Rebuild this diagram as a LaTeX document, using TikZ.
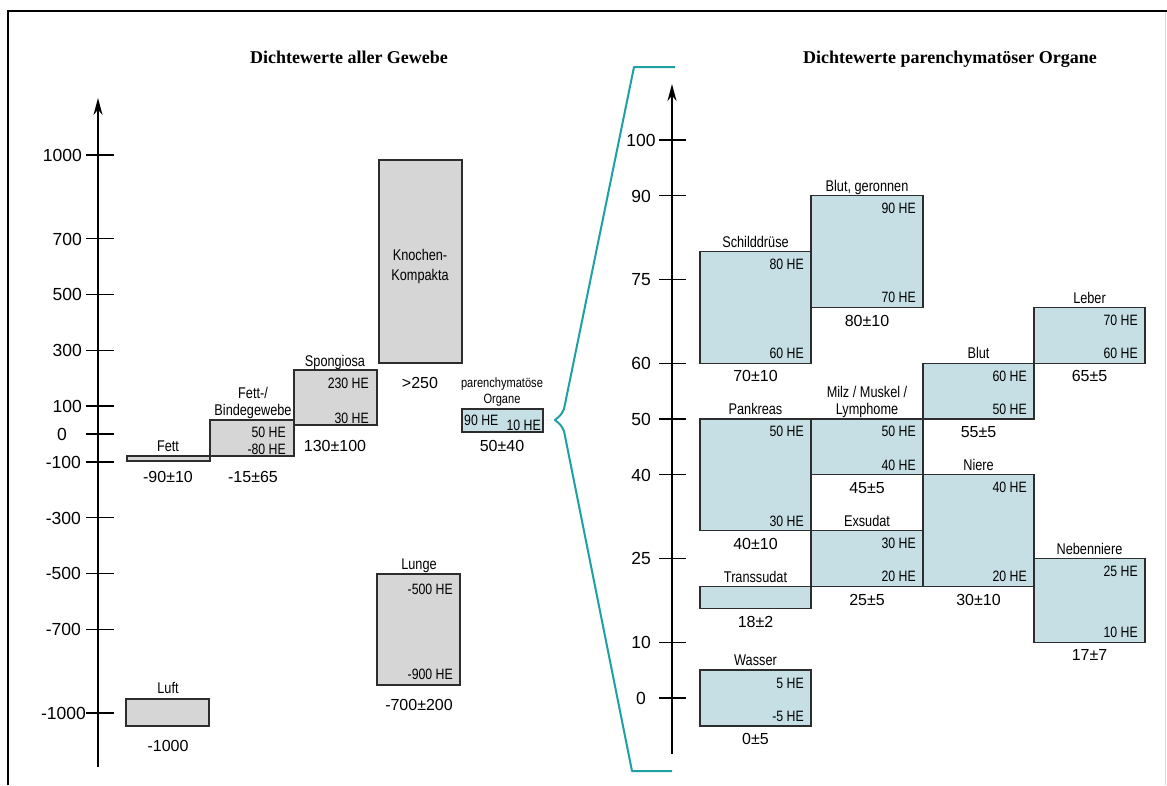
\documentclass[tikz,border=0pt]{standalone}
\usepackage{fontspec}
\setmainfont{Liberation Sans}
\newfontfamily\cond[FakeStretch=0.82]{Liberation Sans}
\newfontfamily\ttlfont{Liberation Serif}
\usetikzlibrary{arrows.meta}
\definecolor{boxgray}{RGB}{214,214,214}
\definecolor{boxblue}{RGB}{198,223,228}
\definecolor{bracketcol}{RGB}{30,160,165}
\definecolor{edgecol}{RGB}{45,45,45}
\tikzset{
 graybox/.style={draw=edgecol, line width=1.3pt, fill=boxgray, inner sep=0pt, outer sep=0pt},
 bluebox/.style={draw=edgecol, line width=1.3pt, fill=boxblue, inner sep=0pt, outer sep=0pt},
 he/.style={font=\cond\fontsize{15}{16}\selectfont, inner sep=0pt, text height=10.8pt, text depth=0pt},
 namelab/.style={font=\cond\fontsize{15.5}{17}\selectfont, inner sep=0pt, text height=11.2pt, text depth=0pt},
 smalllab/.style={font=\cond\fontsize{13.5}{15}\selectfont, inner sep=0pt, text height=9.8pt, text depth=0pt},
 val/.style={font=\fontsize{16}{17}\selectfont, inner sep=0pt, text height=11.5pt, text depth=0pt},
 ticklab/.style={font=\fontsize{17.5}{18}\selectfont, inner sep=0pt, text height=12.6pt, text depth=0pt},
 ttl/.style={font=\ttlfont\bfseries\fontsize{18}{20}\selectfont, inner sep=0pt, text height=12pt, text depth=0pt},
 axisline/.style={line width=2pt, -{Stealth[length=17pt,width=9pt]}},
 tickline/.style={line width=1.3pt},
}
\newcommand\mkbox[6]{\node[#1, anchor=north west, minimum width=#5pt, minimum height=#6pt] (#2) at (#3,#4) {};}
\newcommand\helabs[3]{%
 \node[he, anchor=east] (#1-t) at ([xshift=-7pt,yshift=-12.5pt]#1.north east) {#2};
 \node[he, anchor=east] (#1-b) at ([xshift=-7pt,yshift=10pt]#1.south east) {#3};}
\newcommand\namevals[3]{%
 \node[namelab] (#1-n) at ([yshift=10pt]#1.north) {#2};
 \node[val] (#1-v) at ([yshift=-13pt]#1.south) {#3};}
\begin{document}
\begin{tikzpicture}[x=1pt,y=-1pt]
\useasboundingbox (0,0) rectangle (1167,785);
\fill[white] (0,0) rectangle (1167,785);
% frame
\draw[line width=2.5pt] (8,785) -- (8,11) -- (1167,11);
\draw[black!15, line width=1pt] (1165,12) -- (1165,785);
% titles
\node[ttl] (t1) at (349,57) {Dichtewerte aller Gewebe};
\node[ttl] (t2) at (950,57) {Dichtewerte parenchymatöser Organe};
% ---------------- left axis
\coordinate (la0) at (98,767);
\coordinate (la1) at (98,98);
\draw[axisline] (la0) -- (la1);
\foreach \v/\lab/\ax/\an in {1000/1000/82/east,700/700/82/east,500/500/82/east,300/300/82/east,100/100/82/east,0/0/62/center,-100/-100/81/east,-300/-300/81/east,-500/-500/81/east,-700/-700/81/east,-1000/-1000/86/east}{
  \draw[tickline] (86,{434-0.279*\v}) -- (114,{434-0.279*\v});
  \node[ticklab, anchor=\an] (lt\v) at (\ax,{434-0.279*\v}) {\lab};
}
% ---------------- left boxes
\mkbox{graybox}{fett}{127}{456}{83}{5}
\node[namelab] (fett-n) at (168,446) {Fett};
\node[val] (fett-v) at (168,477) {-90±10};
\mkbox{graybox}{bind}{210}{420}{84}{36}
\node[namelab] (bind-n1) at (253,393) {Fett-/};
\node[namelab] (bind-n2) at (253,410) {Bindegewebe};
\node[he, anchor=east] (bind-t) at (286,432) {50 HE};
\node[he, anchor=east] (bind-b) at (286,449) {-80 HE};
\node[val] (bind-v) at (253,477) {-15±65};
\mkbox{graybox}{spong}{294}{370}{83}{55}
\node[namelab] (spong-n) at (335,361) {Spongiosa};
\node[he, anchor=east] (spong-t) at (369,383) {230 HE};
\node[he, anchor=east] (spong-b) at (369,418) {30 HE};
\node[val] (spong-v) at (335,446) {130±100};
\mkbox{graybox}{knochen}{379}{160}{83}{203}
\node[namelab] (kn-1) at (420,255) {Knochen-};
\node[namelab] (kn-2) at (420,275) {Kompakta};
\node[val] (kn-v) at (420,383) {>250};
\mkbox{bluebox}{organe}{462}{409}{81}{23}
\node[smalllab] (org-1) at (502,383) {parenchymatöse};
\node[smalllab] (org-2) at (502,399) {Organe};
\node[he, anchor=west] (org-t) at (464,420) {90 HE};
\node[he, anchor=east] (org-b) at (541,425) {10 HE};
\node[val] (org-v) at (502,446) {50±40};
\mkbox{graybox}{lunge}{377}{574}{83}{111}
\node[namelab] (lunge-n) at (419,564) {Lunge};
\node[he, anchor=east] (lunge-t) at (453,589) {-500 HE};
\node[he, anchor=east] (lunge-b) at (453,674) {-900 HE};
\node[val] (lunge-v) at (419,705) {-700±200};
\mkbox{graybox}{luft}{126}{699}{83}{27}
\node[namelab] (luft-n) at (168,688) {Luft};
\node[val] (luft-v) at (168,746) {-1000};
% ---------------- bracket
\draw[bracketcol, line width=2pt, line join=round] (675,67) -- (634,67) -- (564,409) .. controls (561,415) .. (555,420) .. controls (561,425) .. (564,431) -- (632,771) -- (672,771);
% ---------------- right axis
\coordinate (ra0) at (672,754);
\coordinate (ra1) at (672,84);
\draw[axisline] (ra0) -- (ra1);
\foreach \v in {100,90,75,60,50,40,25,10,0}{
  \draw[tickline] (659,{698-5.58*\v}) -- (686,{698-5.58*\v});
  \node[ticklab] (rt\v) at (641,{698-5.58*\v}) {\v};
}
% ---------------- right boxes
\mkbox{bluebox}{schild}{700}{251.6}{111}{111.6}
\helabs{schild}{80 HE}{60 HE}
\namevals{schild}{Schilddrüse}{70±10}
\mkbox{bluebox}{blutg}{811}{195.8}{112}{111.6}
\helabs{blutg}{90 HE}{70 HE}
\namevals{blutg}{Blut, geronnen}{80±10}
\mkbox{bluebox}{leber}{1034}{307.4}{111}{55.8}
\helabs{leber}{70 HE}{60 HE}
\namevals{leber}{Leber}{65±5}
\mkbox{bluebox}{blut}{923}{363.2}{111}{55.8}
\helabs{blut}{60 HE}{50 HE}
\namevals{blut}{Blut}{55±5}
\mkbox{bluebox}{milz}{811}{419}{112}{55.8}
\helabs{milz}{50 HE}{40 HE}
\node[namelab] (milz-n1) at (867,392) {Milz / Muskel /};
\node[namelab] (milz-n2) at (867,409) {Lymphome};
\node[val] (milz-v) at ([yshift=-13pt]milz.south) {45±5};
\mkbox{bluebox}{pank}{700}{419}{111}{111.6}
\helabs{pank}{50 HE}{30 HE}
\namevals{pank}{Pankreas}{40±10}
\mkbox{bluebox}{niere}{923}{474.8}{111}{111.6}
\helabs{niere}{40 HE}{20 HE}
\namevals{niere}{Niere}{30±10}
\mkbox{bluebox}{exs}{811}{530.6}{112}{55.8}
\helabs{exs}{30 HE}{20 HE}
\namevals{exs}{Exsudat}{25±5}
\mkbox{bluebox}{trans}{700}{586.4}{111}{22.3}
\namevals{trans}{Transsudat}{18±2}
\mkbox{bluebox}{neben}{1034}{558.5}{111}{83.7}
\helabs{neben}{25 HE}{10 HE}
\namevals{neben}{Nebenniere}{17±7}
\mkbox{bluebox}{wasser}{700}{670.1}{111}{55.8}
\helabs{wasser}{5 HE}{-5 HE}
\namevals{wasser}{Wasser}{0±5}
\end{tikzpicture}
\end{document}
